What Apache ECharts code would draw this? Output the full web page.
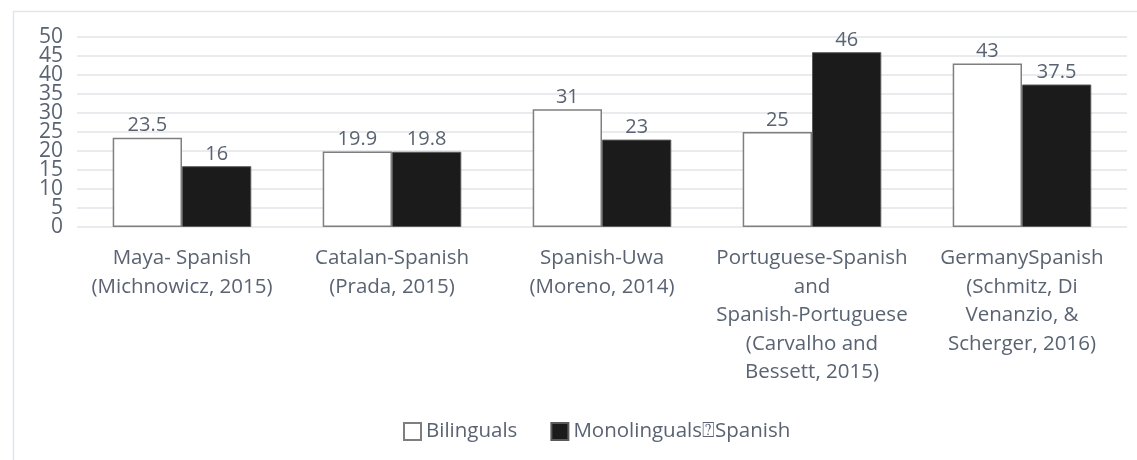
<!DOCTYPE html>
<html>
<head>
<meta charset="utf-8">
<script src="https://cdn.jsdelivr.net/npm/echarts@6/dist/echarts.min.js"></script>
<style>
  html, body { margin: 0; padding: 0; background: #fff; }
  #barGraph { width: 1137px; height: 460px; }
</style>
</head>
<body>
<div id="barGraph"></div>
<script>
var dom = document.getElementById("barGraph");
var myChart = echarts.init(dom);

var categories = [
  'Maya- Spanish\n(Michnowicz, 2015)',
  'Catalan-Spanish\n(Prada, 2015)',
  'Spanish-Uwa\n(Moreno, 2014)',
  'Portuguese-Spanish\nand\nSpanish-Portuguese\n(Carvalho and\nBessett, 2015)',
  'GermanySpanish\n(Schmitz, Di\nVenanzio, &\nScherger, 2016)'
];
var bilinguals = [23.5, 19.9, 31, 25, 43];
var monolinguals = [16, 19.8, 23, 46, 37.5];
var seriesNames = ['Bilinguals', 'Monolinguals\u2370Spanish'];
// tick labels split in two sets so the tightly packed labels are not auto-hidden
var yTicksTens = [0, 10, 20, 30, 40, 50];
var yTicksFives = [5, 15, 25, 35, 45];

var textColor = '#596372';
var font = '"Open Sans", "Noto Sans", sans-serif';

function labelAxis(values) {
  return {
    type: 'value',
    position: 'left',
    min: 0,
    max: 50,
    axisLine: { show: false },
    axisTick: { show: false },
    splitLine: { show: false },
    axisLabel: {
      customValues: values,
      color: textColor,
      fontSize: 21,
      margin: 14,
      showMinLabel: true,
      showMaxLabel: true,
      hideOverlap: false
    }
  };
}

var option = {
  animation: false,
  textStyle: { fontFamily: font },
  // light frame at top/left, like the cropped original
  graphic: [{
    type: 'rect',
    shape: { x: 13.5, y: 11.5, width: 1300, height: 600 },
    style: { fill: 'none', stroke: '#e4e5ea', lineWidth: 1.5 },
    silent: true
  }],
  grid: {
    left: 77,
    right: 10,
    top: 37,
    bottom: 233
  },
  legend: {
    left: 398,
    top: 416,
    icon: 'rect',
    itemWidth: 17,
    itemHeight: 17,
    itemGap: 33,
    textStyle: { color: textColor, fontSize: 20.5, fontFamily: font },
    data: seriesNames
  },
  xAxis: {
    type: 'category',
    data: categories,
    axisLine: { show: false },
    axisTick: { show: false },
    axisLabel: {
      interval: 0,
      color: textColor,
      fontSize: 20.5,
      lineHeight: 28.5,
      margin: 17
    }
  },
  yAxis: [{
    type: 'value',
    min: 0,
    max: 50,
    interval: 5,
    axisLine: { show: false },
    axisTick: { show: false },
    axisLabel: { show: false },
    splitLine: { lineStyle: { color: '#e3e4e9', width: 1.5 } }
  }, labelAxis(yTicksTens), labelAxis(yTicksFives)],
  series: [{
    name: seriesNames[0],
    type: 'bar',
    data: bilinguals,
    barGap: 0,
    barCategoryGap: '34%',
    itemStyle: { color: '#ffffff', borderColor: '#7f7f7f', borderWidth: 1.5 },
    label: { show: true, position: 'top', color: textColor, fontSize: 20, distance: 2 }
  }, {
    name: seriesNames[1],
    type: 'bar',
    data: monolinguals,
    itemStyle: { color: '#1b1b1b', borderColor: '#5a5a5a', borderWidth: 1 },
    label: { show: true, position: 'top', color: textColor, fontSize: 20, distance: 2 }
  }]
};

myChart.setOption(option, true);
</script>
</body>
</html>
